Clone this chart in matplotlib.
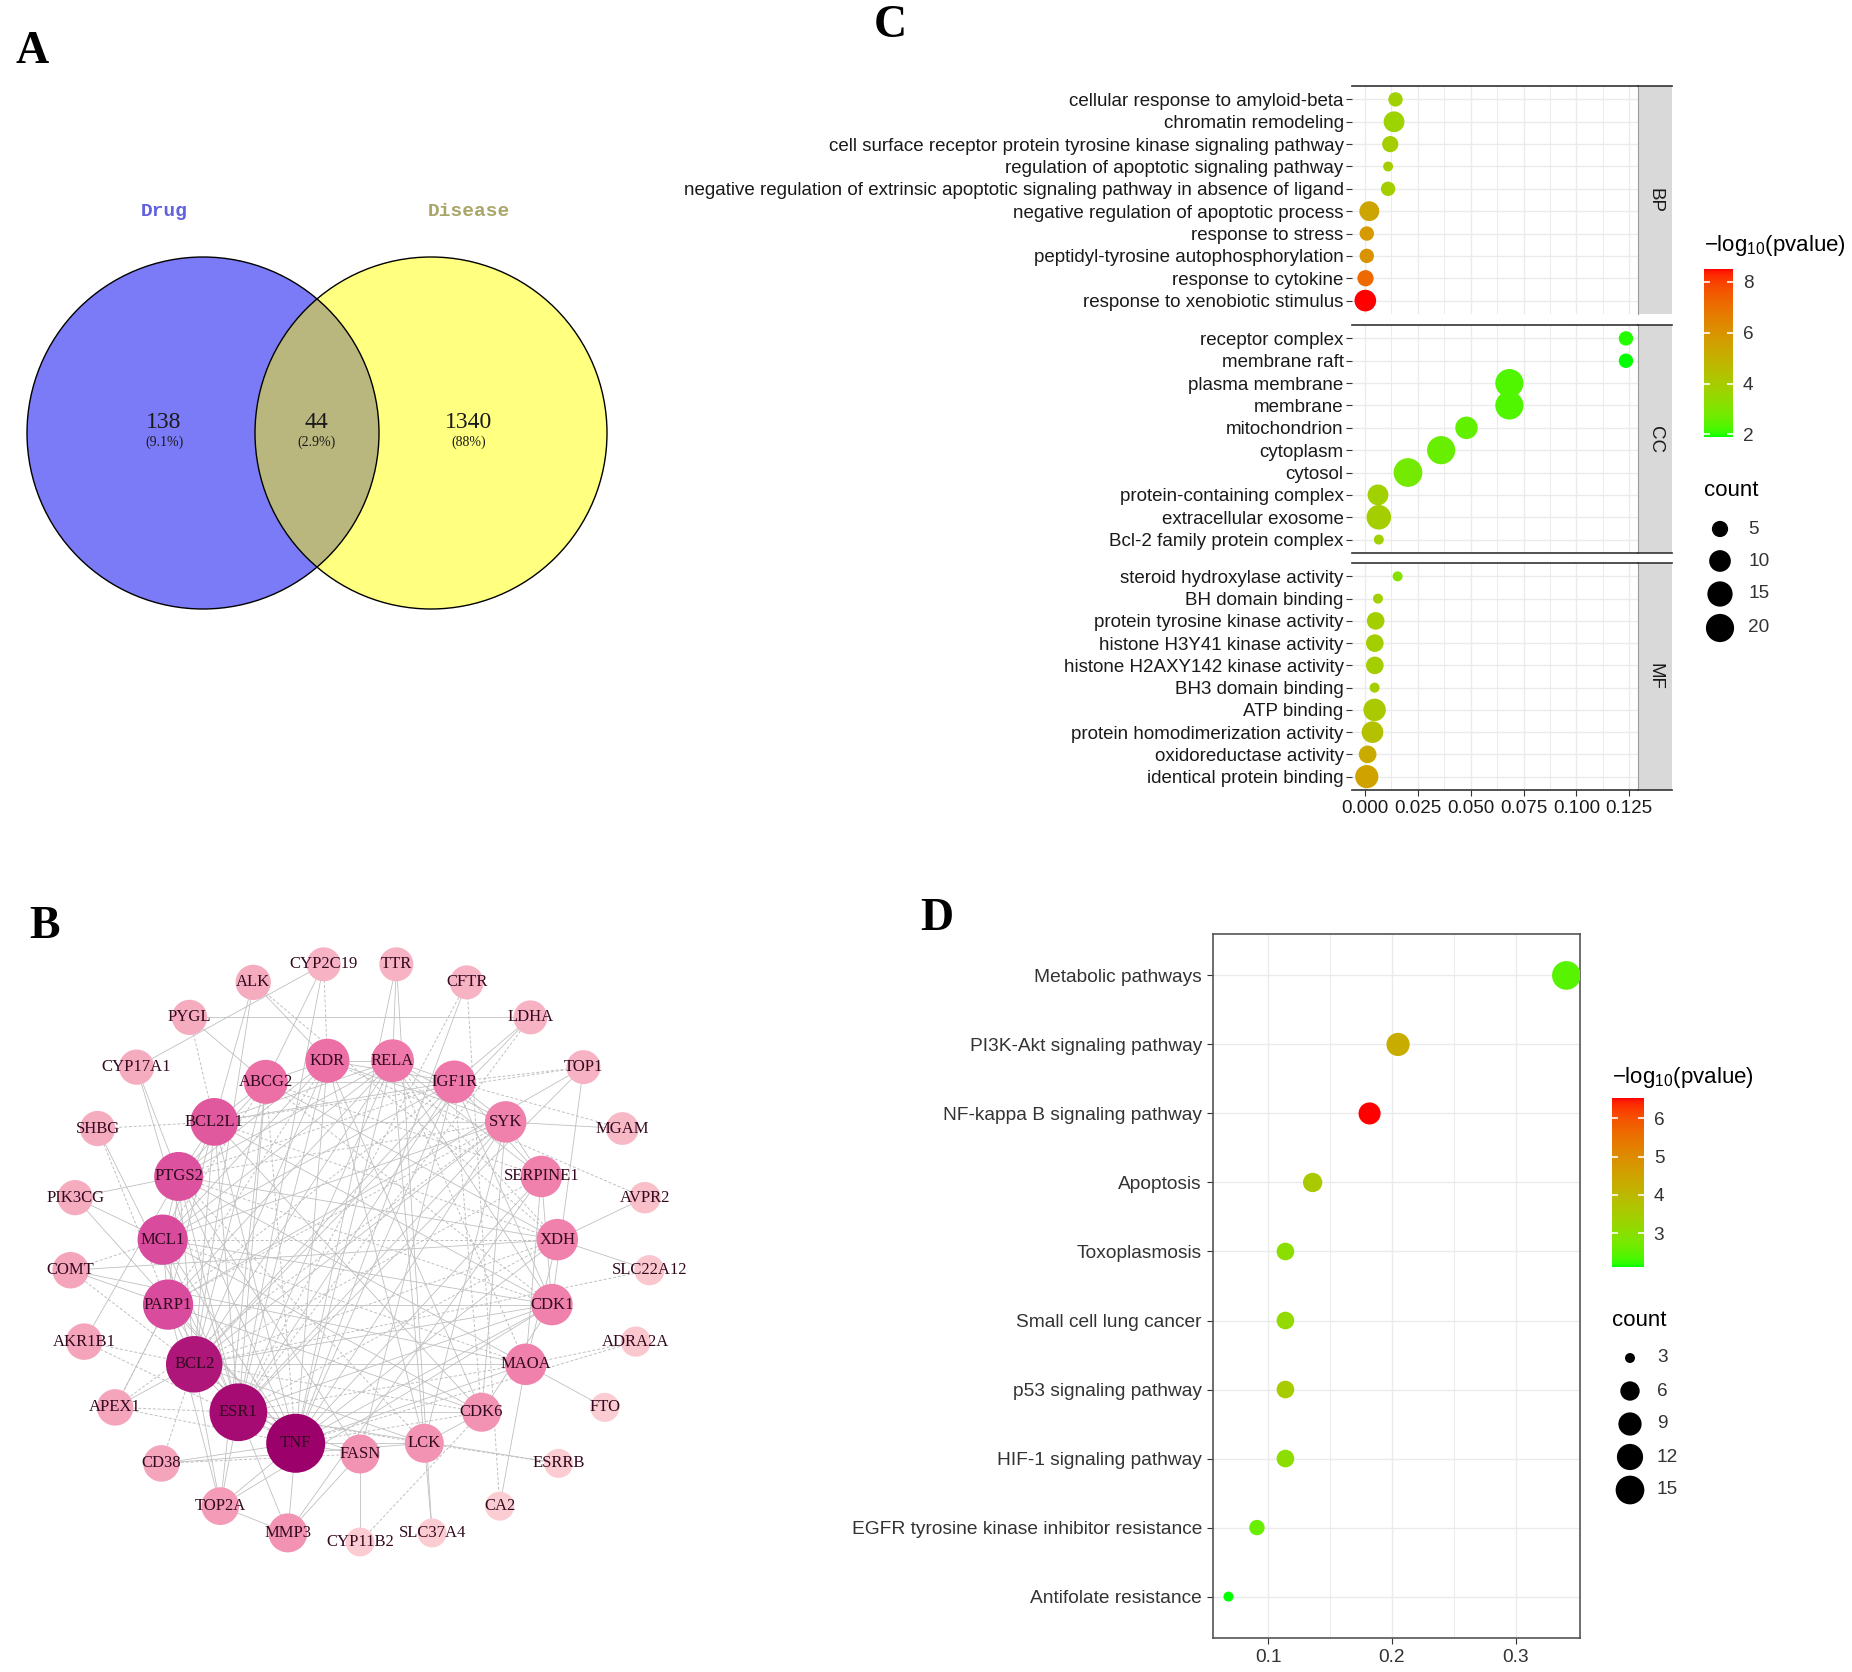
import numpy as np
import matplotlib
matplotlib.use("Agg")
import matplotlib.pyplot as plt
from matplotlib.colors import ListedColormap, LinearSegmentedColormap, Normalize, to_rgb
from matplotlib.patches import Circle
from matplotlib.collections import LineCollection

W, H, DPI = 1852, 1672, 100

plt.rcParams['font.family'] = ['Liberation Sans', 'DejaVu Sans']
plt.rcParams['mathtext.fontset'] = 'custom'
plt.rcParams['mathtext.rm'] = 'Liberation Sans'
plt.rcParams['mathtext.it'] = 'Liberation Sans:italic'
plt.rcParams['mathtext.bf'] = 'Liberation Sans:bold'

# ---------------- A: venn
venn_names = ["Drug", "Disease"]
venn_counts = [138, 44, 1340]
venn_pct = ["(9.1%)", "(2.9%)", "(88%)"]

# ---------------- B: PPI network (degree sorted, two rings)
inner_nodes = ["TNF", "ESR1", "BCL2", "PARP1", "MCL1", "PTGS2", "BCL2L1", "ABCG2", "KDR", "RELA",
               "IGF1R", "SYK", "SERPINE1", "XDH", "CDK1", "MAOA", "CDK6", "LCK", "FASN"]
inner_degree = [28, 27, 26, 21, 21, 20, 19, 16, 16, 15, 15, 14, 14, 14, 14, 14, 12, 12, 12]
outer_nodes = ["MMP3", "TOP2A", "CD38", "APEX1", "AKR1B1", "COMT", "PIK3CG", "SHBG", "CYP17A1", "PYGL",
               "ALK", "CYP2C19", "TTR", "CFTR", "LDHA", "TOP1", "MGAM", "AVPR2", "SLC22A12", "ADRA2A",
               "FTO", "ESRRB", "CA2", "SLC37A4", "CYP11B2"]
outer_degree = [12, 11, 10, 10, 10, 10, 9, 9, 9, 9, 9, 8, 8, 8, 8, 8, 7, 6, 5, 5, 4, 4, 4, 4, 4]

solid_links = {
    "TNF": "ESR1 BCL2 PARP1 MCL1 PTGS2 BCL2L1 KDR RELA IGF1R SYK SERPINE1 XDH CDK1 MAOA LCK FASN MMP3 TOP2A CD38 PIK3CG TTR CFTR",
    "ESR1": "BCL2 PARP1 MCL1 PTGS2 BCL2L1 ABCG2 KDR RELA IGF1R SYK CDK1 CDK6 FASN MMP3 TOP2A SHBG CYP17A1 CYP2C19 TOP1 ESRRB",
    "BCL2": "PARP1 MCL1 PTGS2 BCL2L1 ABCG2 KDR RELA IGF1R SYK CDK1 MAOA LCK TOP2A APEX1 ALK LDHA",
    "PARP1": "MCL1 PTGS2 BCL2L1 RELA CDK1 CDK6 TOP2A APEX1 COMT TOP1",
    "MCL1": "PTGS2 BCL2L1 KDR RELA IGF1R SYK CDK1 CDK6 PIK3CG",
    "PTGS2": "BCL2L1 ABCG2 KDR RELA XDH MAOA FASN AKR1B1 PIK3CG CYP17A1",
    "BCL2L1": "ABCG2 RELA IGF1R SYK CDK1 CDK6 ALK",
    "ABCG2": "KDR IGF1R XDH TOP2A PYGL CYP2C19",
    "KDR": "RELA IGF1R SYK CDK6 LCK ALK",
    "RELA": "IGF1R SYK SERPINE1 CDK1 LCK TTR",
    "IGF1R": "SYK SERPINE1 CDK1 FASN LDHA",
    "SYK": "SERPINE1 LCK CDK6 MGAM",
    "SERPINE1": "MAOA CDK1 MMP3",
    "XDH": "MAOA SLC22A12 AVPR2 COMT",
    "CDK1": "CDK6 TOP2A TOP1",
    "MAOA": "FTO CA2 COMT",
    "CDK6": "LCK",
    "LCK": "CD38 SLC37A4",
    "FASN": "MMP3 CYP11B2",
    "MMP3": "TOP2A",
    "PYGL": "LDHA",
    "TTR": "SLC37A4",
    "CYP2C19": "CYP17A1",
}
dashed_links = {
    "TNF": "APEX1 AKR1B1 COMT ADRA2A ABCG2 CDK6",
    "ESR1": "APEX1 LDHA CFTR XDH MAOA LCK",
    "BCL2": "AKR1B1 CD38 SLC22A12 SERPINE1 XDH CDK6",
    "PARP1": "APEX1 SHBG KDR IGF1R SYK",
    "MCL1": "COMT ABCG2 XDH MAOA",
    "PTGS2": "IGF1R SYK CDK1 LCK",
    "BCL2L1": "SHBG PYGL TOP1 XDH",
    "ABCG2": "SERPINE1 CDK1",
    "IGF1R": "TOP1 MGAM CDK6",
    "RELA": "XDH MAOA",
    "LCK": "ESRRB",
    "MAOA": "ADRA2A",
    "CFTR": "CA2",
    "CD38": "FASN",
    "KDR": "CYP2C19 AVPR2",
    "SYK": "APEX1",
    "CDK6": "CYP11B2",
    "XDH": "ALK",
}

# ---------------- C: GO enrichment
bp_terms = ["cellular response to amyloid-beta", "chromatin remodeling",
            "cell surface receptor protein tyrosine kinase signaling pathway",
            "regulation of apoptotic signaling pathway",
            "negative regulation of extrinsic apoptotic signaling pathway in absence of ligand",
            "negative regulation of apoptotic process", "response to stress",
            "peptidyl-tyrosine autophosphorylation", "response to cytokine",
            "response to xenobiotic stimulus"]
bp_x = [0.0144, 0.0137, 0.0119, 0.0109, 0.0109, 0.0020, 0.0008, 0.0008, 0.0002, 0.0001]
bp_logp = [3.8, 3.7, 3.9, 3.9, 3.9, 5.4, 5.8, 6.0, 7.2, 8.5]
bp_count = [4, 9, 5, 3, 4, 8, 4, 4, 5, 10]

cc_terms = ["receptor complex", "membrane raft", "plasma membrane", "membrane", "mitochondrion",
            "cytoplasm", "cytosol", "protein-containing complex", "extracellular exosome",
            "Bcl-2 family protein complex"]
cc_x = [0.1235, 0.1235, 0.0683, 0.0683, 0.0480, 0.0360, 0.0203, 0.0061, 0.0065, 0.0065]
cc_logp = [2.0, 1.9, 2.3, 2.3, 2.5, 2.6, 2.8, 3.8, 3.9, 3.8]
cc_count = [4, 4, 20, 20, 11, 20, 21, 9, 14, 3]

mf_terms = ["steroid hydroxylase activity", "BH domain binding", "protein tyrosine kinase activity",
            "histone H3Y41 kinase activity", "histone H2AXY142 kinase activity", "BH3 domain binding",
            "ATP binding", "protein homodimerization activity", "oxidoreductase activity",
            "identical protein binding"]
mf_x = [0.0154, 0.0061, 0.0050, 0.0046, 0.0046, 0.0045, 0.0045, 0.0035, 0.0012, 0.0008]
mf_logp = [3.1, 3.8, 3.9, 3.9, 3.9, 3.9, 4.1, 4.4, 5.2, 5.5]
mf_count = [3, 3, 6, 6, 6, 3, 11, 10, 6, 12]

go_ticks = [2, 4, 6, 8]
go_size_breaks = [5, 10, 15, 20]

# ---------------- D: KEGG enrichment
kegg_terms = ["Metabolic pathways", "PI3K-Akt signaling pathway", "NF-kappa B signaling pathway",
              "Apoptosis", "Toxoplasmosis", "Small cell lung cancer", "p53 signaling pathway",
              "HIF-1 signaling pathway", "EGFR tyrosine kinase inhibitor resistance",
              "Antifolate resistance"]
kegg_ratio = [0.341, 0.205, 0.182, 0.136, 0.114, 0.114, 0.114, 0.114, 0.091, 0.068]
kegg_logp = [2.45, 4.3, 6.53, 3.6, 3.0, 3.15, 3.5, 3.05, 2.6, 2.12]
kegg_count = [15, 9, 8, 6, 5, 5, 5, 5, 4, 3]
kegg_ticks = [3, 4, 5, 6]
kegg_size_breaks = [3, 6, 9, 12, 15]


def box(l, t, r, b):
    return [l / W, 1 - b / H, (r - l) / W, (b - t) / H]


def lab_gradient(c1, c2, n=256):
    # ggplot style gradient, interpolated in CIE Lab
    M = np.array([[0.4124, 0.3576, 0.1805], [0.2126, 0.7152, 0.0722], [0.0193, 0.1192, 0.9505]])
    wp = M.sum(axis=1)

    def to_lab(c):
        rgb = np.array(to_rgb(c))
        lin = np.where(rgb <= 0.04045, rgb / 12.92, ((rgb + 0.055) / 1.055) ** 2.4)
        xyz = M @ lin / wp
        f = np.where(xyz > (6 / 29) ** 3, np.cbrt(xyz), xyz / (3 * (6 / 29) ** 2) + 4 / 29)
        return np.array([116 * f[1] - 16, 500 * (f[0] - f[1]), 200 * (f[1] - f[2])])

    a, b = to_lab(c1), to_lab(c2)
    t = np.linspace(0, 1, n)[:, None]
    lab = a + (b - a) * t
    fy = (lab[:, 0] + 16) / 116
    f = np.stack([fy + lab[:, 1] / 500, fy, fy - lab[:, 2] / 200], axis=1)
    xyz = np.where(f > 6 / 29, f ** 3, 3 * (6 / 29) ** 2 * (f - 4 / 29)) * wp
    lin = np.clip(xyz @ np.linalg.inv(M).T, 0, 1)
    rgb = np.where(lin <= 0.0031308, 12.92 * lin, 1.055 * lin ** (1 / 2.4) - 0.055)
    return ListedColormap(np.clip(rgb, 0, 1))


def dot_area(count, lo, hi):
    d = 10 + 18.7 * np.sqrt((np.asarray(count, float) - lo) / (hi - lo))
    return (d * 72 / DPI) ** 2


def colorbar(rect, cmap, norm, ticks):
    cax = fig.add_axes(box(*rect))
    grad = np.linspace(norm.vmin, norm.vmax, 256)[:, None]
    cax.imshow(grad, cmap=cmap, norm=norm, aspect='auto', origin='lower',
               extent=[0, 1, norm.vmin, norm.vmax])
    cax.set_xticks([])
    cax.yaxis.tick_right()
    cax.set_yticks(ticks)
    cax.set_ylim(norm.vmin, norm.vmax)
    cax.tick_params(axis='y', length=0, labelsize=13.7, labelcolor='#333333', pad=7)
    cax.hlines(ticks, 0, 0.2, color='white', lw=1.2)
    cax.hlines(ticks, 0.8, 1, color='white', lw=1.2)
    for s in cax.spines.values():
        s.set_visible(False)


fig = plt.figure(figsize=(W / DPI, H / DPI), dpi=DPI)
canvas = fig.add_axes([0, 0, 1, 1], zorder=10)
canvas.set_xlim(0, W)
canvas.set_ylim(H, 0)
canvas.axis('off')

# panel letters
for letter, (lx, ly) in zip("ABCD", [(32, 52), (45, 927), (890, 26), (937, 919)]):
    canvas.text(lx, ly, letter, fontsize=33, fontweight='bold', family='Liberation Serif',
                ha='center', va='center')

# ---------------- A
left_c = Circle((203, 433), 176, fc='#7b7bf7', ec='none', zorder=1)
right_c = Circle((431, 433), 176, fc='#ffff80', ec='none', zorder=1)
canvas.add_patch(left_c)
canvas.add_patch(right_c)
mid_c = Circle((203, 433), 176, fc='#bab77e', ec='none', zorder=2)
canvas.add_patch(mid_c)
mid_c.set_clip_path(right_c)
for cx in (203, 431):
    canvas.add_patch(Circle((cx, 433), 176, fc='none', ec='black', lw=1.0, zorder=3))
canvas.text(164, 211, venn_names[0], color='#6060e0', fontsize=14, family='Liberation Mono',
            fontweight='bold', ha='center', va='center')
canvas.text(469, 211, venn_names[1], color='#aaa66a', fontsize=14, family='Liberation Mono',
            fontweight='bold', ha='center', va='center')
for tx, n, p in zip([164, 316, 469], venn_counts, venn_pct):
    canvas.text(tx, 423, str(n), fontsize=17, family='Liberation Serif', ha='center', va='center',
                color='#1a1a1a', zorder=4)
    canvas.text(tx, 442, p, fontsize=10, family='Liberation Serif', ha='center', va='center',
                color='#1a1a1a', zorder=4)

# ---------------- B
pos = {}
for names, cx, cy, r in [(inner_nodes, 360, 1256, 198), (outer_nodes, 360, 1252, 290)]:
    ang = np.deg2rad(270 - (np.arange(len(names)) + 1) * 360 / len(names))
    for nm, a in zip(names, ang):
        pos[nm] = (cx + r * np.cos(a), cy - r * np.sin(a))

solid_segs = [[pos[a], pos[b]] for a, tg in solid_links.items() for b in tg.split()]
dashed_segs = [[pos[a], pos[b]] for a, tg in dashed_links.items() for b in tg.split()]
canvas.add_collection(LineCollection(solid_segs, colors='#c0c0c0', linewidths=0.6, zorder=1))
canvas.add_collection(LineCollection(dashed_segs, colors='#c0c0c0', linewidths=0.7,
                                     linestyles=(0, (3, 2)), zorder=1))

node_cmap = LinearSegmentedColormap.from_list(
    "deg", ["#fbcdd2", "#f5a5bb", "#ec6fa5", "#d5449a", "#9c006b"])
all_nodes = inner_nodes + outer_nodes
all_deg = np.array(inner_degree + outer_degree, float)
dnorm = (all_deg - all_deg.min()) / (all_deg.max() - all_deg.min())
for nm, t in zip(all_nodes, dnorm):
    canvas.add_patch(Circle(pos[nm], 14.5 + 15 * t, fc=node_cmap(t), ec='none', zorder=2))
    canvas.text(pos[nm][0], pos[nm][1], nm, fontsize=12, family='Liberation Serif',
                color='#33091f', ha='center', va='center', zorder=3)

# ---------------- C
go_cmap = lab_gradient('#00FF00', '#FF0000')
all_lp = bp_logp + cc_logp + mf_logp
go_norm = Normalize(min(all_lp), max(all_lp))
all_cnt = bp_count + cc_count + mf_count
go_lo, go_hi = min(all_cnt), max(all_cnt)

facets = [("BP", bp_terms, bp_x, bp_logp, bp_count, 86, 314),
          ("CC", cc_terms, cc_x, cc_logp, cc_count, 325, 553),
          ("MF", mf_terms, mf_x, mf_logp, mf_count, 563, 790)]
for name, terms, xs, lp, cnt, top, bot in facets:
    ax = fig.add_axes(box(1352, top, 1638, bot))
    y = np.arange(len(terms))
    ax.scatter(xs, y, s=dot_area(cnt, go_lo, go_hi), c=lp, cmap=go_cmap, norm=go_norm,
               linewidths=0, zorder=3)
    ax.set_xlim(-0.0062, 0.1292)
    ax.set_ylim(len(terms) - 0.4, -0.6)
    ax.set_yticks(y)
    ax.set_yticklabels(terms, fontsize=13.5, color='#1a1a1a')
    ax.set_xticks(np.arange(0, 0.126, 0.025))
    ax.set_xticks(np.arange(0.0125, 0.13, 0.025), minor=True)
    ax.grid(True, which='major', color='#EBEBEB', lw=1.0)
    ax.grid(True, which='minor', axis='x', color='#EBEBEB', lw=0.7)
    ax.set_axisbelow(True)
    ax.tick_params(which='minor', length=0)
    ax.tick_params(axis='y', length=4, width=0.8, color='#333333', pad=2)
    for side in ['left', 'right', 'bottom']:
        ax.spines[side].set_visible(False)
    ax.spines['top'].set_color('#333333')
    ax.spines['top'].set_linewidth(1.2)
    if name == "MF":
        ax.set_xticklabels(["0.000", "0.025", "0.050", "0.075", "0.100", "0.125"])
        ax.tick_params(axis='x', length=4, width=0.8, color='#333333', labelsize=13.5,
                       labelcolor='#1a1a1a', pad=3)
    else:
        ax.tick_params(axis='x', length=0, labelbottom=False)
    if name != "BP":
        ax.spines['bottom'].set_visible(True)
        ax.spines['bottom'].set_color('#333333')
        ax.spines['bottom'].set_linewidth(1.2)

    sx = fig.add_axes(box(1638, top, 1672, bot))
    sx.set_facecolor('#D9D9D9')
    sx.set_xticks([])
    sx.set_yticks([])
    sx.spines['right'].set_visible(False)
    sx.spines['left'].set_color('#9a9a9a')
    sx.spines['left'].set_linewidth(0.8)
    sx.spines['top'].set_color('#333333')
    sx.spines['top'].set_linewidth(1.2)
    if name == "BP":
        sx.spines['bottom'].set_visible(False)
    else:
        sx.spines['bottom'].set_color('#333333')
        sx.spines['bottom'].set_linewidth(1.2)
    sx.text(0.5, 0.5, name, rotation=270, ha='center', va='center', fontsize=13.5,
            color='#1a1a1a', transform=sx.transAxes)

colorbar((1704, 269, 1733, 437), go_cmap, go_norm, go_ticks)
canvas.text(1704, 246, "−log$_{10}$(pvalue)", fontsize=16, ha='left', va='center')
canvas.text(1704, 490, "count", fontsize=16, ha='left', va='center')
go_leg_y = [529, 561, 594, 628]
canvas.scatter([1720] * len(go_size_breaks), go_leg_y, s=dot_area(go_size_breaks, go_lo, go_hi),
               color='black', linewidths=0)
for yy, b in zip(go_leg_y, go_size_breaks):
    canvas.text(1748, yy, str(b), fontsize=13.7, color='#333333', ha='left', va='center')

# ---------------- D
kegg_cmap = lab_gradient('#00FF00', '#FF0000')
kegg_norm = Normalize(min(kegg_logp), max(kegg_logp))
k_lo, k_hi = min(kegg_count), max(kegg_count)
dax = fig.add_axes(box(1213, 934, 1580, 1638))
y = np.arange(len(kegg_terms))
dax.scatter(kegg_ratio, y, s=dot_area(kegg_count, k_lo, k_hi), c=kegg_logp, cmap=kegg_cmap,
            norm=kegg_norm, linewidths=0, zorder=3)
dax.set_xlim(0.0555, 0.352)
dax.set_ylim(len(kegg_terms) - 0.4, -0.6)
dax.set_yticks(y)
dax.set_yticklabels(kegg_terms, fontsize=13.8, color='#1a1a1a')
dax.set_xticks([0.1, 0.2, 0.3])
dax.set_xticklabels(["0.1", "0.2", "0.3"])
dax.set_xticks([0.15, 0.25], minor=True)
dax.grid(True, which='major', color='#EBEBEB', lw=1.0)
dax.grid(True, which='minor', axis='x', color='#EBEBEB', lw=0.7)
dax.set_axisbelow(True)
dax.tick_params(which='minor', length=0)
dax.tick_params(which='major', length=4, width=0.8, color='#333333', labelsize=13.8,
                labelcolor='#333333', pad=4)
for s in dax.spines.values():
    s.set_color('#555555')
    s.set_linewidth(1.2)

colorbar((1612, 1098, 1644, 1267), kegg_cmap, kegg_norm, kegg_ticks)
canvas.text(1612, 1077, "−log$_{10}$(pvalue)", fontsize=16, ha='left', va='center')
canvas.text(1612, 1320, "count", fontsize=16, ha='left', va='center')
k_leg_y = [1358, 1391, 1424, 1457, 1490]
canvas.scatter([1630] * len(kegg_size_breaks), k_leg_y, s=dot_area(kegg_size_breaks, k_lo, k_hi),
               color='black', linewidths=0)
for yy, b in zip(k_leg_y, kegg_size_breaks):
    canvas.text(1657, yy, str(b), fontsize=13.7, color='#333333', ha='left', va='center')

fig.savefig("out.png", dpi=DPI, facecolor='white')
